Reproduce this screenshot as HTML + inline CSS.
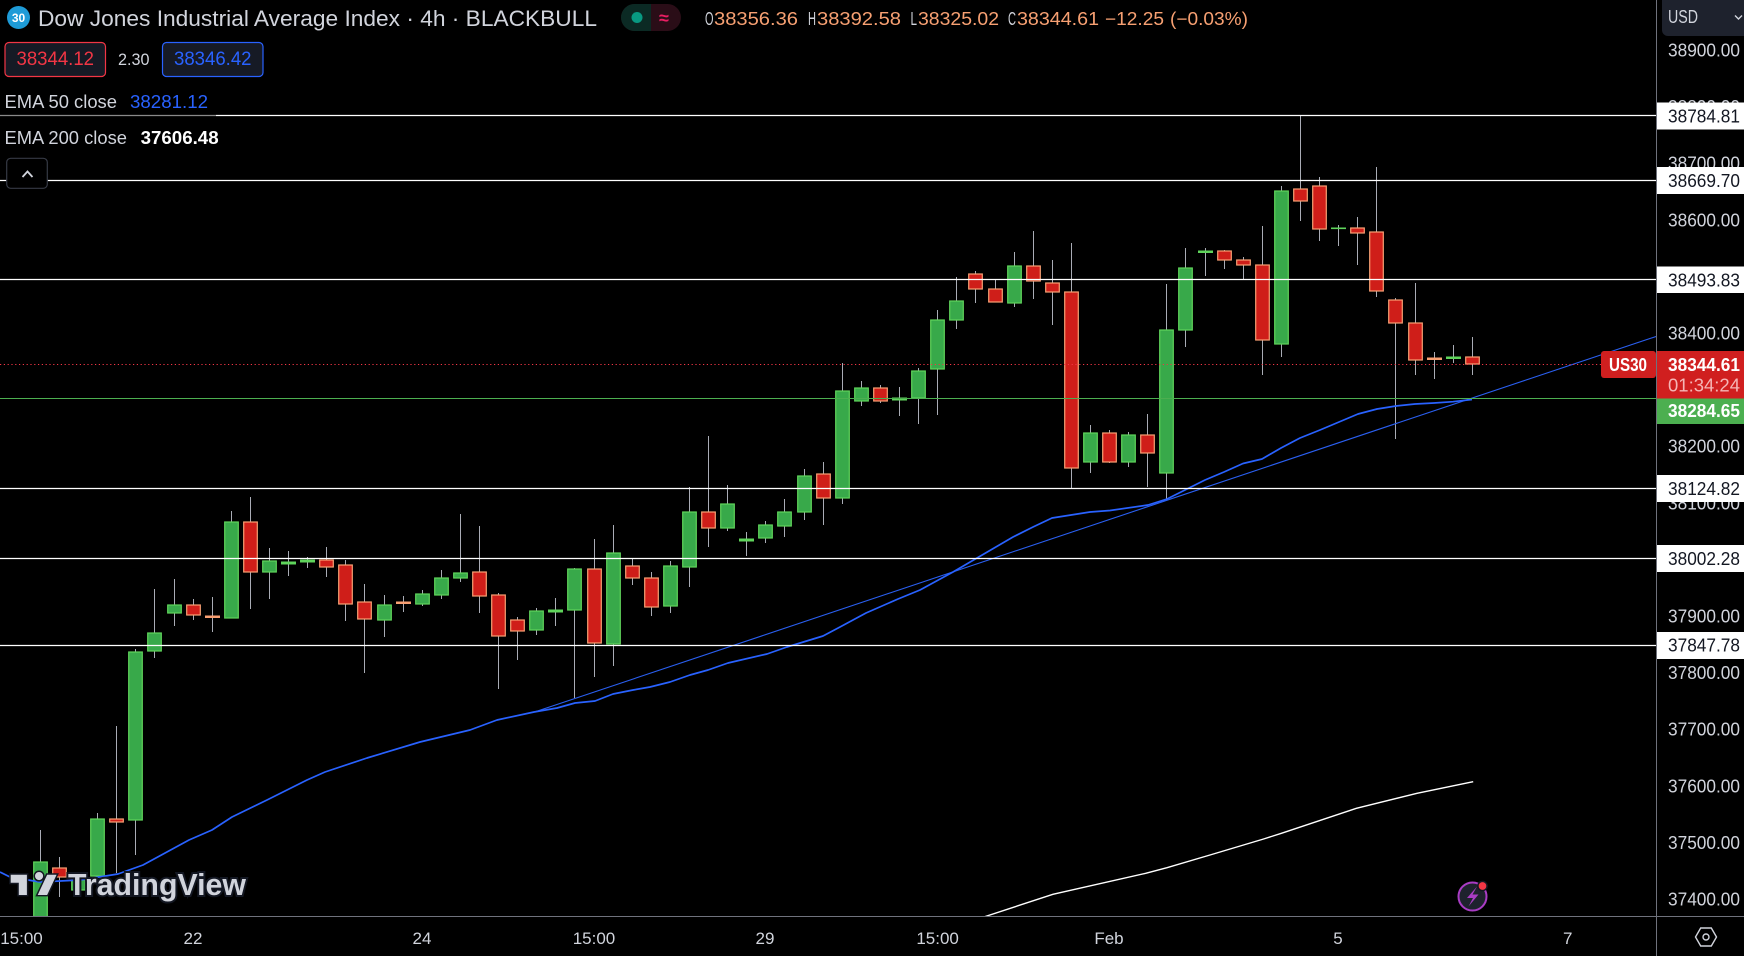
<!DOCTYPE html>
<html>
<head>
<meta charset="utf-8">
<style>
html,body{margin:0;padding:0;background:#000;}
svg{display:block;}
text{font-family:"Liberation Sans",sans-serif;}
</style>
</head>
<body>
<svg width="1744" height="956" viewBox="0 0 1744 956" xmlns="http://www.w3.org/2000/svg">
<rect x="0" y="0" width="1744" height="956" fill="#000"/>
<defs>
<clipPath id="pane"><rect x="0" y="0" width="1656" height="916"/></clipPath>
</defs>

<g clip-path="url(#pane)">
<!-- wicks -->
<path fill="none" stroke="#a9acb5" stroke-width="1" d="
M40.5,830V916 M59.5,857V897 M78.5,875V895 M97.5,813V880 M116.5,726V873 M135.5,649V855 M154.5,589V658 M174.5,579V626 M193.5,599V620 M212.5,597V632
M231.5,511V618 M250.5,497V609 M269.5,548V599 M288.5,551V576 M307.5,557V568 M326.5,547V577 M345.5,560V621 M364.5,584V673 M384.5,595V637 M403.5,596V612
M422.5,590V606 M441.5,570V599 M460.5,514V582 M479.5,526V613 M498.5,593V689 M517.5,617V660 M536.5,608V635 M555.5,598V626 M574.5,568V698 M594.5,539V677
M613.5,525V666 M632.5,559V585 M651.5,572V616 M670.5,561V613 M689.5,487V587 M708.5,436V547 M727.5,485V531 M746.5,532V556 M765.5,521V543 M784.5,499V537
M804.5,469V520 M823.5,462V525 M842.5,363V504 M861.5,381V406 M880.5,385V403 M899.5,387V416 M918.5,368V424 M937.5,310V415 M956.5,277V329 M975.5,271V303
M995.5,280V302 M1014.5,252V307 M1033.5,231V299 M1052.5,260V325 M1071.5,243V489 M1090.5,425V473 M1109.5,430V463 M1128.5,432V467 M1147.5,414V487 M1166.5,284V500
M1185.5,248V347 M1205.5,248V276 M1224.5,250V269 M1243.5,257V280 M1262.5,226V375 M1281.5,186V357 M1300.5,116V221 M1319.5,177V241 M1338.5,225V246 M1357.5,217V265
M1376.5,167V297 M1395.5,298V439 M1415.5,283V375 M1434.5,352V379 M1453.5,345V363 M1472.5,337V375"/>

<!-- green bodies -->
<g fill="#38a94a" stroke="#5fd45b" stroke-width="1.2">
<rect x="33.7" y="862" width="13.6" height="60"/>
<rect x="71.7" y="880" width="13.6" height="10"/>
<rect x="90.7" y="819" width="13.6" height="57"/>
<rect x="128.7" y="652" width="13.6" height="168"/>
<rect x="147.7" y="633" width="13.6" height="18"/>
<rect x="167.7" y="605" width="13.6" height="8"/>
<rect x="224.7" y="522" width="13.6" height="96"/>
<rect x="262.7" y="561" width="13.6" height="11"/>
<rect x="377.7" y="605" width="13.6" height="15"/>
<rect x="415.7" y="594" width="13.6" height="10"/>
<rect x="434.7" y="578" width="13.6" height="17"/>
<rect x="453.7" y="573" width="13.6" height="5"/>
<rect x="529.7" y="611" width="13.6" height="19"/>
<rect x="567.7" y="569" width="13.6" height="41"/>
<rect x="606.7" y="553" width="13.6" height="91"/>
<rect x="663.7" y="566" width="13.6" height="40"/>
<rect x="682.7" y="512" width="13.6" height="55"/>
<rect x="720.7" y="504" width="13.6" height="24"/>
<rect x="758.7" y="525" width="13.6" height="13"/>
<rect x="777.7" y="512" width="13.6" height="14"/>
<rect x="797.7" y="476" width="13.6" height="36"/>
<rect x="835.7" y="391" width="13.6" height="107"/>
<rect x="854.7" y="388" width="13.6" height="13"/>
<rect x="911.7" y="371" width="13.6" height="27"/>
<rect x="930.7" y="320" width="13.6" height="49"/>
<rect x="949.7" y="301" width="13.6" height="19"/>
<rect x="1007.7" y="266" width="13.6" height="37"/>
<rect x="1083.7" y="433" width="13.6" height="29"/>
<rect x="1121.7" y="435" width="13.6" height="27"/>
<rect x="1159.7" y="330" width="13.6" height="143"/>
<rect x="1178.7" y="268" width="13.6" height="62"/>
<rect x="1274.7" y="191" width="13.6" height="153"/>
</g>
<!-- green dojis -->
<g fill="#5fd45b">
<rect x="281" y="561.5" width="15" height="3"/>
<rect x="300" y="559.5" width="15" height="3"/>
<rect x="548" y="609.5" width="15" height="3"/>
<rect x="739" y="538.5" width="15" height="3"/>
<rect x="892" y="397.5" width="15" height="3"/>
<rect x="1198" y="250.5" width="15" height="2.5"/>
<rect x="1331" y="227.5" width="15" height="1.6"/>
<rect x="1446" y="356.5" width="15" height="2.5"/>
</g>

<!-- red bodies -->
<g fill="#cf1e19" stroke="#f9a073" stroke-width="1.2">
<rect x="52.7" y="868" width="13.6" height="9"/>
<rect x="109.7" y="819" width="13.6" height="3"/>
<rect x="186.7" y="605" width="13.6" height="10"/>
<rect x="243.7" y="522" width="13.6" height="50"/>
<rect x="319.7" y="560" width="13.6" height="7"/>
<rect x="338.7" y="565" width="13.6" height="39"/>
<rect x="357.7" y="602" width="13.6" height="17"/>
<rect x="472.7" y="572" width="13.6" height="24"/>
<rect x="491.7" y="595" width="13.6" height="41"/>
<rect x="510.7" y="620" width="13.6" height="11"/>
<rect x="587.7" y="569" width="13.6" height="74"/>
<rect x="625.7" y="566" width="13.6" height="12"/>
<rect x="644.7" y="578" width="13.6" height="29"/>
<rect x="701.7" y="512" width="13.6" height="16"/>
<rect x="816.7" y="474" width="13.6" height="24"/>
<rect x="873.7" y="388" width="13.6" height="13"/>
<rect x="968.7" y="274" width="13.6" height="15"/>
<rect x="988.7" y="289" width="13.6" height="13"/>
<rect x="1026.7" y="266" width="13.6" height="15"/>
<rect x="1045.7" y="283" width="13.6" height="9"/>
<rect x="1064.7" y="292" width="13.6" height="176"/>
<rect x="1102.7" y="433" width="13.6" height="29"/>
<rect x="1140.7" y="435" width="13.6" height="18"/>
<rect x="1217.7" y="251" width="13.6" height="9"/>
<rect x="1236.7" y="260" width="13.6" height="5"/>
<rect x="1255.7" y="265" width="13.6" height="75"/>
<rect x="1293.7" y="189" width="13.6" height="12"/>
<rect x="1312.7" y="186" width="13.6" height="43"/>
<rect x="1350.7" y="228" width="13.6" height="5"/>
<rect x="1369.7" y="232" width="13.6" height="59"/>
<rect x="1388.7" y="300" width="13.6" height="23"/>
<rect x="1408.7" y="323" width="13.6" height="37"/>
<rect x="1465.7" y="357" width="13.6" height="7"/>
</g>
<!-- red/orange dojis -->
<g fill="#f9a073">
<rect x="205" y="615.5" width="15" height="2.5"/>
<rect x="396" y="601.5" width="15" height="2.5"/>
<rect x="1427" y="357.5" width="15" height="2.5"/>
</g>

<!-- EMA 200 -->
<polyline fill="none" stroke="#ffffff" stroke-width="1.4" points="955,927 986.8,916 1052.9,894.3 1145.7,873.3 1167,867.7 1210,855 1263.6,839 1281.4,833.3 1356.4,808.3 1417,793.3 1473.2,781.7"/>
<!-- trend line -->
<line x1="536" y1="711.5" x2="1656" y2="336.5" stroke="#2a5ff0" stroke-width="1.1"/>
<!-- EMA 50 -->
<polyline fill="none" stroke="#2962ff" stroke-width="1.7" stroke-linejoin="round" points="0,872 10,877 40,882 80,880 118,874 143,865 189,840 212,830 232,817 267,800 307,780 325,772 367,758 420,742 470,730 497,720 534,712 557,708 575,703 595,701 613,694 633,690 650,687 670,682 690,675 708,670 728,663 767,654 787,647 823,636 840,627 866,613 898,599 920,590 953,572 977,558 1013,537 1033,527 1052,518 1071,515 1090,512 1110,510.5 1148,505 1167,499 1186,489.5 1205,480 1224,472 1243,463.5 1262,459 1281,448 1300,438 1320,430 1339,422 1358,414 1377,409 1396,406 1415,404 1434,403 1453,401.7 1472,399.5"/>

<!-- horizontal lines -->
<line x1="0" y1="115.5" x2="216" y2="115.5" stroke="#8a8a8a" stroke-width="1.3"/>
<line x1="216" y1="115.5" x2="1656" y2="115.5" stroke="#ffffff" stroke-width="1.3"/>
<line x1="0" y1="180.5" x2="1656" y2="180.5" stroke="#ffffff" stroke-width="1.3"/>
<line x1="0" y1="279.5" x2="1656" y2="279.5" stroke="#ffffff" stroke-width="1.3"/>
<line x1="0" y1="488.5" x2="1656" y2="488.5" stroke="#ffffff" stroke-width="1.3"/>
<line x1="0" y1="558.5" x2="1656" y2="558.5" stroke="#ffffff" stroke-width="1.3"/>
<line x1="0" y1="645.5" x2="1656" y2="645.5" stroke="#ffffff" stroke-width="1.3"/>
<line x1="0" y1="398.5" x2="1656" y2="398.5" stroke="#4caf50" stroke-width="1.1"/>
<line x1="0" y1="364.5" x2="1656" y2="364.5" stroke="#f23645" stroke-width="1.1" stroke-dasharray="1.2 2.6"/>

<!-- TradingView logo -->
<g transform="translate(8,866.6) scale(1.35)">
<path d="M14 6H2v6h6v9h6V6Zm8 15h7l7-15h-7l-7 15Zm1-11a3 3 0 1 0 0-6 3 3 0 0 0 0 6Z" fill="#d1d4dc" stroke="#131722" stroke-width="2.2" paint-order="stroke"/>
</g>
<text x="68" y="895" font-size="31" font-weight="bold" fill="#d1d4dc" stroke="#131722" stroke-width="4" paint-order="stroke" textLength="178" lengthAdjust="spacingAndGlyphs">TradingView</text>

<!-- lightning icon -->
<circle cx="1472.5" cy="896.5" r="14" fill="#1e222d" stroke="#a93cc4" stroke-width="2"/>
<path d="M1477,886.5 L1467,898 L1473,898 L1468.5,906.5 L1478.5,894.5 L1472.5,894.5 Z" fill="#a93cc4"/>
<circle cx="1482.5" cy="886" r="4.6" fill="#f23645" stroke="#131722" stroke-width="1.5"/>
</g>

<!-- axes borders -->
<line x1="1656.5" y1="0" x2="1656.5" y2="956" stroke="#6f727c" stroke-width="1"/>
<line x1="0" y1="916.5" x2="1744" y2="916.5" stroke="#6f727c" stroke-width="1"/>

<!-- price axis labels -->
<g font-size="18" fill="#d1d4dc">
<text x="1668" y="56.5" textLength="72" lengthAdjust="spacingAndGlyphs">38900.00</text>
<text x="1668" y="113" textLength="72" lengthAdjust="spacingAndGlyphs">38800.00</text>
<text x="1668" y="169.7" textLength="72" lengthAdjust="spacingAndGlyphs">38700.00</text>
<text x="1668" y="226.3" textLength="72" lengthAdjust="spacingAndGlyphs">38600.00</text>
<text x="1668" y="339.5" textLength="72" lengthAdjust="spacingAndGlyphs">38400.00</text>
<text x="1668" y="452.7" textLength="72" lengthAdjust="spacingAndGlyphs">38200.00</text>
<text x="1668" y="509.3" textLength="72" lengthAdjust="spacingAndGlyphs">38100.00</text>
<text x="1668" y="622.5" textLength="72" lengthAdjust="spacingAndGlyphs">37900.00</text>
<text x="1668" y="679" textLength="72" lengthAdjust="spacingAndGlyphs">37800.00</text>
<text x="1668" y="735.7" textLength="72" lengthAdjust="spacingAndGlyphs">37700.00</text>
<text x="1668" y="792.3" textLength="72" lengthAdjust="spacingAndGlyphs">37600.00</text>
<text x="1668" y="849" textLength="72" lengthAdjust="spacingAndGlyphs">37500.00</text>
<text x="1668" y="905.5" textLength="72" lengthAdjust="spacingAndGlyphs">37400.00</text>
</g>

<!-- white line labels -->
<g fill="#ffffff">
<rect x="1657" y="102.5" width="87" height="27"/>
<rect x="1657" y="167" width="87" height="27"/>
<rect x="1657" y="266.5" width="87" height="26.5"/>
<rect x="1657" y="475" width="87" height="27"/>
<rect x="1657" y="545" width="87" height="27"/>
<rect x="1657" y="632" width="87" height="27"/>
</g>
<g font-size="18" fill="#131722">
<text x="1668" y="122.7" textLength="72" lengthAdjust="spacingAndGlyphs">38784.81</text>
<text x="1668" y="187" textLength="72" lengthAdjust="spacingAndGlyphs">38669.70</text>
<text x="1668" y="286.3" textLength="72" lengthAdjust="spacingAndGlyphs">38493.83</text>
<text x="1668" y="495" textLength="72" lengthAdjust="spacingAndGlyphs">38124.82</text>
<text x="1668" y="565" textLength="72" lengthAdjust="spacingAndGlyphs">38002.28</text>
<text x="1668" y="651.5" textLength="72" lengthAdjust="spacingAndGlyphs">37847.78</text>
</g>

<!-- current price labels -->
<rect x="1657" y="351" width="87" height="47.5" fill="#d01f1f"/>
<text x="1668" y="371" font-size="18" font-weight="bold" fill="#ffffff" textLength="72" lengthAdjust="spacingAndGlyphs">38344.61</text>
<text x="1668" y="391.7" font-size="18" fill="#f5b5b5" textLength="72" lengthAdjust="spacingAndGlyphs">01:34:24</text>
<rect x="1657" y="398.5" width="87" height="25.5" fill="#4caf50"/>
<text x="1668" y="417" font-size="18" font-weight="bold" fill="#ffffff" textLength="72" lengthAdjust="spacingAndGlyphs">38284.65</text>
<rect x="1601" y="351" width="55" height="27" rx="3" fill="#d01f1f"/>
<text x="1609" y="371" font-size="18" font-weight="bold" fill="#ffffff" textLength="38" lengthAdjust="spacingAndGlyphs">US30</text>

<!-- USD button -->
<rect x="1662" y="-6" width="90" height="42" rx="6" fill="#1e222d"/>
<text x="1668" y="23" font-size="18" fill="#d1d4dc" textLength="30" lengthAdjust="spacingAndGlyphs">USD</text>
<polyline points="1735,15.5 1738.5,19 1742,15.5" fill="none" stroke="#d1d4dc" stroke-width="1.4"/>

<!-- time axis -->
<g font-size="17" fill="#d1d4dc" text-anchor="middle">
<text x="21.5" y="944">15:00</text>
<text x="193" y="944">22</text>
<text x="422" y="944">24</text>
<text x="594" y="944">15:00</text>
<text x="765" y="944">29</text>
<text x="937.6" y="944">15:00</text>
<text x="1109" y="944">Feb</text>
<text x="1338" y="944">5</text>
<text x="1567.7" y="944">7</text>
</g>

<!-- settings icon -->
<polygon points="1716.5,937 1711.3,928 1700.7,928 1695.5,937 1700.7,946 1711.3,946" fill="none" stroke="#d1d4dc" stroke-width="1.4"/>
<circle cx="1706" cy="937" r="3" fill="none" stroke="#d1d4dc" stroke-width="1.4"/>

<!-- header -->
<circle cx="18.5" cy="17.5" r="11.5" fill="#1e9bd7"/>
<text x="18.5" y="22" font-size="12" font-weight="bold" fill="#ffffff" text-anchor="middle">30</text>
<text x="38" y="26" font-size="22" fill="#d1d4dc" textLength="559" lengthAdjust="spacingAndGlyphs">Dow Jones Industrial Average Index · 4h · BLACKBULL</text>

<rect x="621" y="4" width="60" height="27" rx="13.5" fill="#2a0d17"/>
<path d="M634.5,4 H651 V31 H634.5 A13.5,13.5 0 0 1 634.5,4 Z" fill="#0b2a24"/>
<circle cx="637" cy="17.5" r="5.5" fill="#089981"/>
<text x="659" y="24" font-size="18" font-weight="bold" fill="#e91e63">≈</text>

<g font-size="18">
<text x="705" y="25" fill="#d1d4dc" textLength="8.5" lengthAdjust="spacingAndGlyphs">O</text>
<text x="714" y="25" fill="#f7a072" textLength="84" lengthAdjust="spacingAndGlyphs">38356.36</text>
<text x="808" y="25" fill="#d1d4dc" textLength="8" lengthAdjust="spacingAndGlyphs">H</text>
<text x="817" y="25" fill="#f7a072" textLength="84" lengthAdjust="spacingAndGlyphs">38392.58</text>
<text x="910.5" y="25" fill="#d1d4dc" textLength="6.5" lengthAdjust="spacingAndGlyphs">L</text>
<text x="918" y="25" fill="#f7a072" textLength="81" lengthAdjust="spacingAndGlyphs">38325.02</text>
<text x="1008" y="25" fill="#d1d4dc" textLength="8" lengthAdjust="spacingAndGlyphs">C</text>
<text x="1017" y="25" fill="#f7a072" textLength="82" lengthAdjust="spacingAndGlyphs">38344.61</text>
<text x="1105" y="25" fill="#f7a072" textLength="59" lengthAdjust="spacingAndGlyphs">−12.25</text>
<text x="1170" y="25" fill="#f7a072" textLength="78" lengthAdjust="spacingAndGlyphs">(−0.03%)</text>
</g>

<!-- bid / ask -->
<rect x="5" y="42.5" width="100.5" height="34" rx="4" fill="#161a25" stroke="#f23645" stroke-width="1.2"/>
<text x="16.5" y="65" font-size="19" fill="#f23645" textLength="77.5" lengthAdjust="spacingAndGlyphs">38344.12</text>
<text x="118" y="65" font-size="17" fill="#d1d4dc" textLength="31.5" lengthAdjust="spacingAndGlyphs">2.30</text>
<rect x="162.5" y="42.5" width="100.5" height="34" rx="4" fill="#161a25" stroke="#2962ff" stroke-width="1.2"/>
<text x="174" y="65" font-size="19" fill="#2962ff" textLength="77.5" lengthAdjust="spacingAndGlyphs">38346.42</text>

<!-- legend -->
<text x="4.5" y="108" font-size="18" fill="#d1d4dc" textLength="112.5" lengthAdjust="spacingAndGlyphs">EMA 50 close</text>
<text x="130" y="108" font-size="18" fill="#2962ff" textLength="78" lengthAdjust="spacingAndGlyphs">38281.12</text>
<text x="4.5" y="144" font-size="18" fill="#d1d4dc" textLength="122.5" lengthAdjust="spacingAndGlyphs">EMA 200 close</text>
<text x="140.6" y="144" font-size="18" font-weight="bold" fill="#ffffff" textLength="78" lengthAdjust="spacingAndGlyphs">37606.48</text>

<!-- collapse button -->
<rect x="6.7" y="158.3" width="40.6" height="30" rx="4" fill="#000" stroke="#363a45" stroke-width="1.2"/>
<polyline points="22.5,177 27.5,171.5 32.5,177" fill="none" stroke="#d1d4dc" stroke-width="1.8"/>
</svg>
</body>
</html>
